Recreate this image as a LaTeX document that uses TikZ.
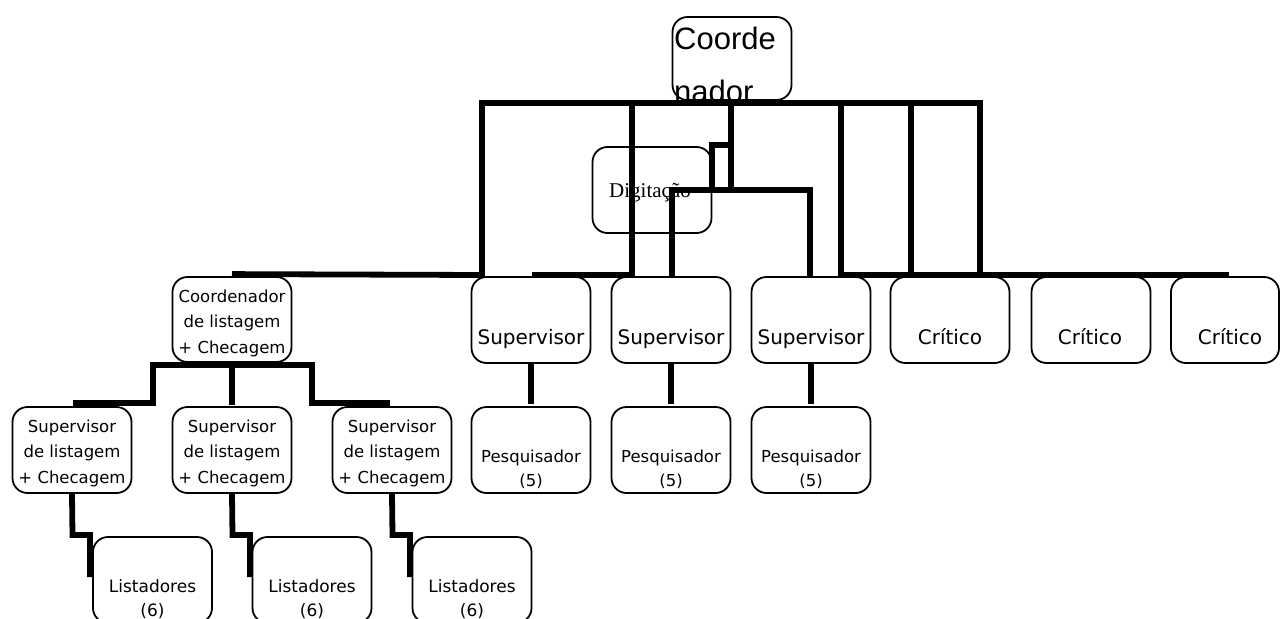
\documentclass[tikz,border=0pt]{standalone}
\usepackage{fontspec}
\newfontfamily\comicf{DejaVu Sans}
\newfontfamily\arialf{Liberation Sans}
\newfontfamily\timesf{Liberation Serif}
\tikzset{
  box/.style={draw, line width=1.8pt, rounded corners=15pt, minimum width=119pt, minimum height=86pt, inner sep=0pt},
  conn/.style={line width=5.8pt, line join=miter},
  tL/.style={font=\comicf\fontsize{16.5}{20}\selectfont, anchor=base, inner sep=0pt},
  tS/.style={font=\comicf\fontsize{20}{24}\selectfont, anchor=base, inner sep=0pt},
  tP/.style={font=\comicf\fontsize{16.5}{20}\selectfont, anchor=base, inner sep=0pt},
  tLi/.style={font=\comicf\fontsize{17}{20}\selectfont, anchor=base, inner sep=0pt},
  tC/.style={font=\arialf\fontsize{31}{36}\selectfont, anchor=base west, inner sep=0pt},
  tD/.style={font=\timesf\fontsize{21}{25}\selectfont, anchor=base, inner sep=0pt},
}
\begin{document}
\begin{tikzpicture}[x=1pt,y=-1pt]
\useasboundingbox (0,0) rectangle (1281,618);
\clip (0,0) rectangle (1281,618);
% boxes
\node[box, minimum height=83pt] (coord) at (732,58.5) {};
\node[box] (dig) at (652,190) {};
\node[box, minimum height=85pt] (cl) at (232,319.5) {};
\node[box] (s1) at (531,320) {};
\node[box] (s2) at (671,320) {};
\node[box] (s3) at (811,320) {};
\node[box] (c1) at (950,320) {};
\node[box] (c2) at (1091,320) {};
\node[box, minimum width=108pt] (c3) at (1225,320) {};
\node[box] (sl1) at (72,450) {};
\node[box] (sl2) at (232,450) {};
\node[box] (sl3) at (392,450) {};
\node[box] (p1) at (531,450) {};
\node[box] (p2) at (671,450) {};
\node[box] (p3) at (811,450) {};
\node[box] (l1) at (152.5,580) {};
\node[box] (l2) at (312,580) {};
\node[box] (l3) at (472,580) {};
% texts
\node[tC] (coordt1) at (674,49) {Coorde};
\node[tC] (coordt2) at (674,102) {nador};
\node[tD] (digt) at (650,197) {Digitação};
\node[tL] (clt1) at (232,302) {Coordenador};
\node[tL] (clt2) at (232,327.5) {de listagem};
\node[tL] (clt3) at (232,353) {+ Checagem};
\node[tS] (s1t) at (531,344) {Supervisor};
\node[tS] (s2t) at (671,344) {Supervisor};
\node[tS] (s3t) at (811,344) {Supervisor};
\node[tS] (c1t) at (950,344) {Crítico};
\node[tS] (c2t) at (1090,344) {Crítico};
\node[tS] (c3t) at (1230,344) {Crítico};
\foreach \n/\x in {sl1/72,sl2/232,sl3/392}{
  \node[tL] (\n t1) at (\x,432) {Supervisor};
  \node[tL] (\n t2) at (\x,457.5) {de listagem};
  \node[tL] (\n t3) at (\x,483) {+ Checagem};
}
\foreach \n/\x in {p1/531,p2/671,p3/811}{
  \node[tP] (\n t1) at (\x,462) {Pesquisador};
  \node[tP] (\n t2) at (\x,486) {(5)};
}
\foreach \n/\x in {l1/152.5,l2/312,l3/472}{
  \node[tLi] (\n t1) at (\x,592) {Listadores};
  \node[tLi] (\n t2) at (\x,616) {(6)};
}
% connectors
\coordinate (busL) at (482,103);
\coordinate (busR) at (980,103);
\draw[conn] ([yshift=2pt]cl.north) -- (482,275) -- (busL) -- (busR) -- (980,275);
\draw[conn] (841,103) -- (841,275) -- (1229,275);
\draw[conn] (911,103) -- (911,275);
\draw[conn] (532,275) -- (632,275) -- (632,103);
\draw[conn] (731,103) -- (731,191);
\draw[conn] (731,145) -- (712,145) -- (712,190);
\draw[conn] (672,277) -- (672,190) -- (810,190) -- (810,277);
\draw[conn] (cl.south) -- (232,405);
\draw[conn] (73,403) -- (153,403) -- (153,365) -- (312,365) -- (312,403) -- (390,403);
\draw[conn] (sl1.south) -- (72.5,535) -- (90,535) -- (90,577);
\draw[conn] (sl2.south) -- (232.5,535) -- (250,535) -- (250,577);
\draw[conn] (sl3.south) -- (392.5,535) -- (410,535) -- (410,577);
\draw[conn] (s1.south) -- ([yshift=2pt]p1.north);
\draw[conn] (s2.south) -- ([yshift=2pt]p2.north);
\draw[conn] (s3.south) -- ([yshift=2pt]p3.north);
\end{tikzpicture}
\end{document}
